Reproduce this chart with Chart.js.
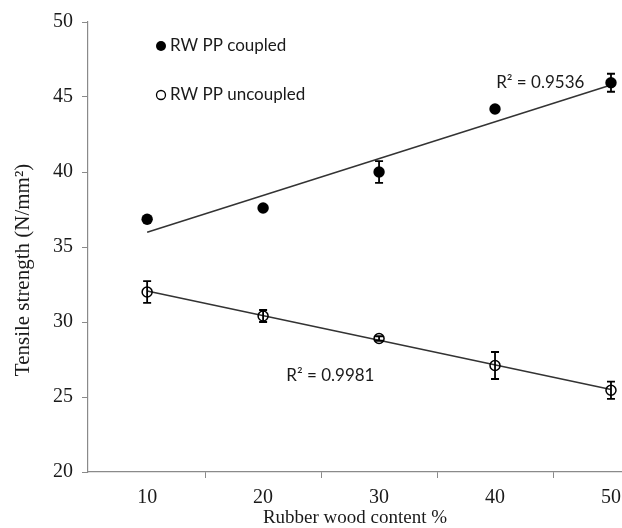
<!DOCTYPE html>
<html>
<head>
<meta charset="utf-8">
<script src="https://cdn.jsdelivr.net/npm/chart.js@4"></script>
<style>
  html, body { margin: 0; padding: 0; background: #fff; }
  #wrap { width: 622px; height: 528px; }
</style>
</head>
<body>
<div id="wrap"><canvas id="mainChart" width="622" height="528"></canvas></div>
<script>
    // rubber wood content (%)
    const woodContent = [10, 20, 30, 40, 50];
    const coupled = [36.85, 37.6, 40.0, 44.2, 45.95];
    const coupledErr = [0.1, 0.1, 0.73, 0.2, 0.6];
    const uncoupled = [32.0, 30.4, 28.9, 27.1, 25.45];
    const uncoupledErr = [0.73, 0.4, 0.15, 0.9, 0.57];

    // linear trend lines as drawn (end points)
    const fitX = [10, 50];
    const coupledFit = [35.98, 45.8];
    const uncoupledFit = [32.07, 25.5];

    const xLabels = [10, 20, 30, 40, 50];
    const xSplits = [15, 25, 35, 45];
    const yTicks = [20, 25, 30, 35, 40, 45, 50];

    const r2Coupled = 'R² = 0.9536';
    const r2Uncoupled = 'R² = 0.9981';
    const yTitle = 'Tensile strength (N/mm²)';

    const axisGray = '#8a8a8a';
    const serif = "'Liberation Serif', 'Times New Roman', serif";
    const sans = "Lato, 'Noto Sans', sans-serif";

    function toPoints(xs, ys) {
        return xs.map((x, i) => ({ x: x, y: ys[i] }));
    }

    // error bars, drawn on top of the markers
    const errorBars = {
        id: 'errorBars',
        afterDatasetsDraw(chart) {
            const ctx = chart.ctx;
            const xs = chart.scales.x, ys = chart.scales.y;
            const sets = [[coupled, coupledErr], [uncoupled, uncoupledErr]];
            ctx.save();
            ctx.strokeStyle = '#000';
            ctx.lineWidth = 1.8;
            sets.forEach(([vals, errs]) => {
                vals.forEach((v, i) => {
                    const px = xs.getPixelForValue(woodContent[i]);
                    const top = ys.getPixelForValue(v + errs[i]);
                    const bot = ys.getPixelForValue(v - errs[i]);
                    ctx.beginPath();
                    ctx.moveTo(px, top); ctx.lineTo(px, bot);
                    ctx.moveTo(px - 4, top); ctx.lineTo(px + 4, top);
                    ctx.moveTo(px - 4, bot); ctx.lineTo(px + 4, bot);
                    ctx.stroke();
                });
            });
            ctx.restore();
        }
    };

    // legend in the top-left of the plot, the R² labels and the y title
    const notes = {
        id: 'notes',
        afterDraw(chart) {
            const ctx = chart.ctx;
            const a = chart.chartArea;
            const xs = chart.scales.x, ys = chart.scales.y;
            ctx.save();
            ctx.font = '17px ' + sans;
            ctx.textBaseline = 'middle';

            const lx = a.left + 73;
            ctx.beginPath();
            ctx.arc(lx, a.top + 24, 5, 0, Math.PI * 2);
            ctx.fillStyle = '#000';
            ctx.fill();
            ctx.beginPath();
            ctx.arc(lx, a.top + 73, 4.5, 0, Math.PI * 2);
            ctx.strokeStyle = '#000';
            ctx.lineWidth = 1.3;
            ctx.stroke();
            ctx.fillStyle = '#1a1a1a';
            ctx.textAlign = 'left';
            ctx.fillText('RW PP coupled', lx + 9, a.top + 24);
            ctx.fillText('RW PP uncoupled', lx + 9, a.top + 73);

            ctx.textAlign = 'center';
            ctx.fillText(r2Coupled, xs.getPixelForValue(43.9), ys.getPixelForValue(45.97));
            ctx.fillText(r2Uncoupled, xs.getPixelForValue(25.8), ys.getPixelForValue(26.45));

            // y axis title, set a little below the middle as in the original
            ctx.translate(23, a.top + 248);
            ctx.rotate(-Math.PI / 2);
            ctx.font = '21px ' + serif;
            ctx.fillText(yTitle, 0, 0);
            ctx.restore();
        }
    };

    const ctx = document.getElementById('mainChart').getContext('2d');
    new Chart(ctx, {
        type: 'scatter',
        data: {
            datasets: [
                {
                    label: 'RW PP coupled',
                    data: toPoints(woodContent, coupled),
                    backgroundColor: '#000',
                    borderColor: '#000',
                    pointRadius: 5.7,
                    borderWidth: 0
                },
                {
                    label: 'RW PP uncoupled',
                    data: toPoints(woodContent, uncoupled),
                    backgroundColor: 'rgba(0,0,0,0)',
                    borderColor: '#000',
                    pointRadius: 5,
                    borderWidth: 1.5
                },
                {
                    type: 'line',
                    label: 'coupled fit',
                    data: toPoints(fitX, coupledFit),
                    borderColor: '#333',
                    borderWidth: 1.5,
                    pointRadius: 0,
                    fill: false
                },
                {
                    type: 'line',
                    label: 'uncoupled fit',
                    data: toPoints(fitX, uncoupledFit),
                    borderColor: '#333',
                    borderWidth: 1.5,
                    pointRadius: 0,
                    fill: false
                }
            ]
        },
        options: {
            responsive: false,
            animation: false,
            layout: { autoPadding: false, padding: { top: 22, right: 0, left: 0, bottom: 0 } },
            plugins: {
                legend: { display: false },
                tooltip: { enabled: false }
            },
            scales: {
                x: {
                    type: 'linear',
                    min: 4.9,
                    max: 50.95,
                    afterBuildTicks: s => { s.ticks = xLabels.concat(xSplits).sort((p, q) => p - q).map(v => ({ value: v })); },
                    afterFit: s => { s.height = 56; s.paddingRight = 0; s.paddingLeft = 0; },
                    grid: {
                        drawOnChartArea: false,
                        tickLength: 6,
                        tickColor: c => (xSplits.includes(c.tick && c.tick.value) ? axisGray : 'rgba(0,0,0,0)')
                    },
                    border: { display: true, color: axisGray, width: 1.2 },
                    ticks: {
                        autoSkip: false,
                        maxRotation: 0,
                        padding: 8,
                        color: '#1a1a1a',
                        font: { family: serif, size: 20 },
                        callback: v => (xLabels.includes(v) ? String(v) : '')
                    },
                    title: {
                        display: true,
                        text: 'Rubber wood content %',
                        color: '#1a1a1a',
                        font: { family: serif, size: 19, lineHeight: 1.0 },
                        padding: { top: 0, bottom: 0 }
                    }
                },
                y: {
                    min: 20,
                    max: 50,
                    afterBuildTicks: s => { s.ticks = yTicks.map(v => ({ value: v })); },
                    afterFit: s => { s.width = 88; },
                    grid: {
                        drawOnChartArea: false,
                        tickLength: 6,
                        tickColor: axisGray
                    },
                    border: { display: true, color: axisGray, width: 1.2 },
                    ticks: {
                        padding: 9,
                        color: '#1a1a1a',
                        font: { family: serif, size: 20 }
                    },
                    title: { display: false }
                }
            }
        },
        plugins: [errorBars, notes]
    });
</script>
</body>
</html>
